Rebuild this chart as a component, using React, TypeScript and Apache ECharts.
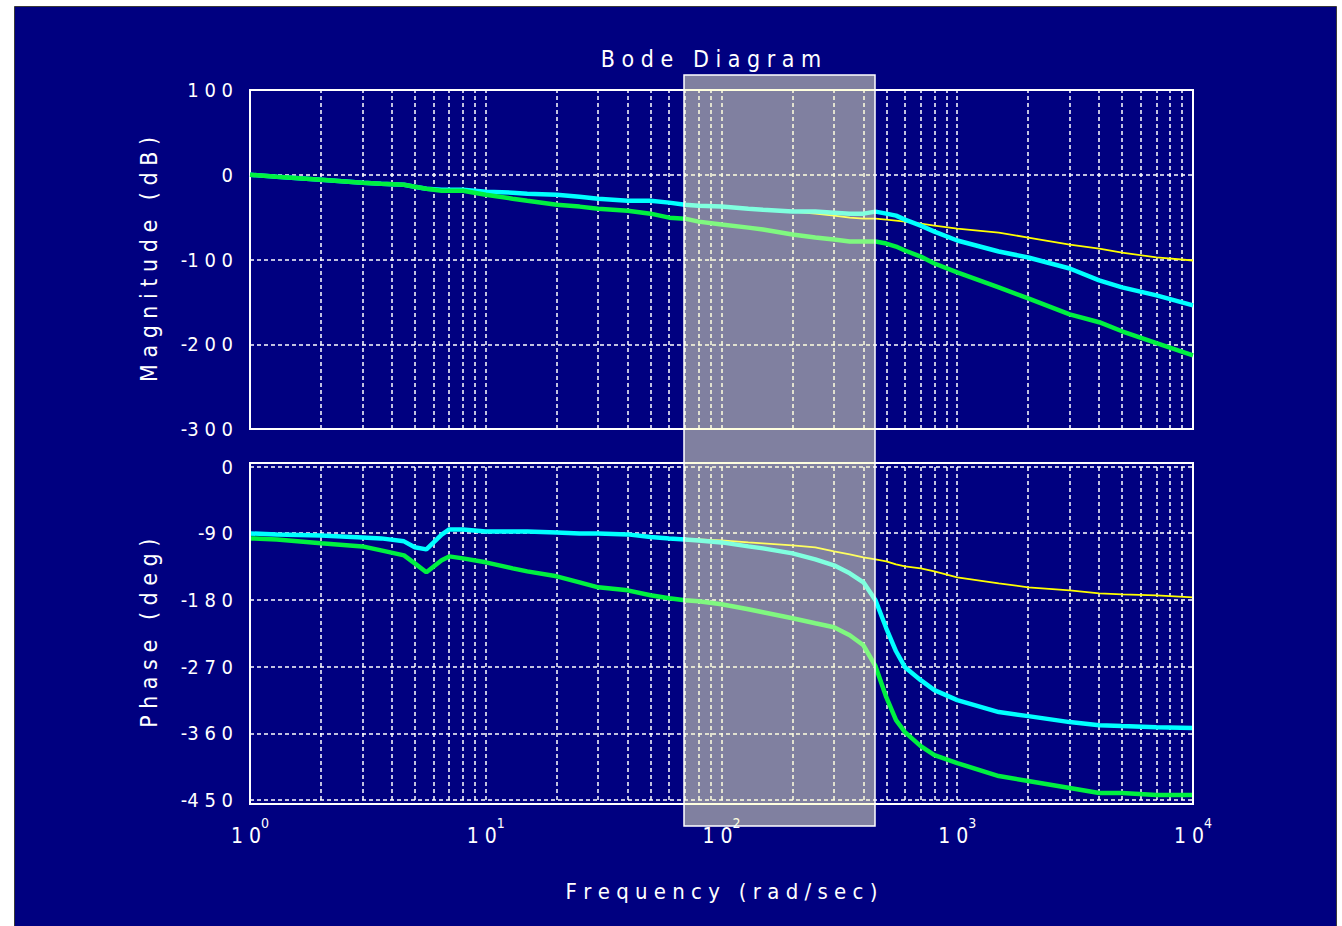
import React, { useEffect, useRef } from 'react';
import * as echarts from 'echarts';

// Frequencies (rad/sec) at which the curves were read
const freq = [1, 1.3, 2, 3, 3.6, 4.5, 5, 5.6, 6.5, 7, 8, 10, 13, 15, 20, 25, 30, 40, 50, 60, 70, 80, 100, 130, 150, 200, 250, 300, 350, 400, 450, 500, 550, 600, 700, 800, 1000, 1500, 2000, 3000, 4000, 5000, 7000, 10000];

// Magnitude (dB)
const magYellow = [0, -2.4, -5.9, -9.4, -10.6, -11.8, -14.1, -16.5, -17.6, -17.6, -17.6, -20, -21.2, -22.4, -23.5, -25.9, -28.2, -30.6, -30.6, -32.9, -35.3, -36.5, -37.6, -40, -41.2, -43.5, -45.9, -48.2, -50.6, -51.8, -51.8, -52.9, -54.1, -55.3, -57.6, -60, -63.5, -68.2, -74.1, -82.4, -87.1, -91.8, -97.6, -101.2];
const magCyan = [0, -2.4, -5.9, -9.4, -10.6, -11.8, -14.1, -16.5, -17.6, -17.6, -17.6, -20, -21.2, -22.4, -23.5, -25.9, -28.2, -30.6, -30.6, -32.9, -35.3, -36.5, -37.6, -40, -41.2, -43.5, -43.5, -44.7, -45.9, -45.9, -43.5, -45.9, -48.2, -52.9, -60, -67.1, -77.6, -90.6, -97.6, -110.6, -124.7, -132.9, -142.4, -154.1];
const magGreen = [0, -2.4, -5.9, -9.4, -10.6, -11.8, -14.1, -16.5, -18.8, -18.8, -18.8, -23.5, -28.2, -30.6, -35.3, -37.6, -40, -42.4, -45.9, -50.6, -51.8, -55.3, -58.8, -62.4, -64.7, -70.6, -74.1, -76.5, -78.8, -78.8, -78.8, -81.2, -84.7, -89.4, -96.5, -104.7, -115.3, -133, -145.9, -164.7, -174, -184.7, -198.8, -213];

// Phase (deg)
const phYellow = [-90.3, -91.6, -93, -95.7, -97, -101, -109, -111.8, -92, -84.9, -84.9, -87.6, -87.6, -87.6, -88.9, -90.3, -90.3, -91.6, -95, -97, -98.4, -98.4, -99.7, -102.4, -103.7, -106.4, -109.1, -114.5, -118.6, -122.6, -125.3, -128, -132, -134.7, -137.4, -141.5, -149.6, -157.6, -163, -167.1, -171.1, -172.5, -173.8, -176.5];
const phCyan = [-90.3, -91.6, -93, -95.7, -97, -101, -109, -111.8, -92, -84.9, -84.9, -87.6, -87.6, -87.6, -88.9, -90.3, -90.3, -91.6, -95, -97, -98.4, -99.7, -102.4, -107.8, -110.5, -117.2, -125.3, -133.4, -144.2, -156.3, -180.5, -218.3, -249.3, -270.8, -288.3, -301.8, -315.3, -331.4, -336.8, -344.9, -349, -350.3, -351.7, -353];
const phGreen = [-97, -98.4, -103.7, -107.8, -113.2, -119.9, -130.7, -142.8, -126.6, -121.3, -124, -129.3, -137.4, -141.5, -148.2, -156.3, -163, -167.1, -173.8, -177.8, -180.5, -181.9, -185.9, -192.7, -196.7, -204.8, -211.5, -216.9, -227.7, -241.2, -269.5, -311.2, -342.2, -358.4, -377.3, -389.4, -400.2, -417.7, -424.4, -433.8, -440.6, -440.6, -443.3, -443.3];

// Axis text
const titleText = 'Bode Diagram';
const magLabel = 'Magnitude (dB)';
const phaseLabel = 'Phase (deg)';
const freqLabel = 'Frequency (rad/sec)';

// Logarithmic grid positions (1..9 in each decade)
const logGrid: number[] = [];
for (let d = 0; d < 4; d++) {
  for (let k = 1; k <= 9; k++) logGrid.push(k * Math.pow(10, d));
}
logGrid.push(10000);

const FONT = '"Liberation Sans Narrow", "DejaVu Sans Condensed", "Liberation Sans", sans-serif';
const spaced = (s: string) => s.split('').join(' ');
const numLabel = (v: number) => (v < 0 ? '-' + spaced(String(Math.abs(v))) : spaced(String(v)));
const pairs = (vals: number[]) => freq.map((f, i) => [f, vals[i]]);

const gridLineStyle = { color: '#ffffff', width: 1.5, type: [4, 3] as number[] };

export default function App() {
  const ref = useRef<HTMLDivElement>(null);

  useEffect(() => {
    if (!ref.current) return;
    const chart = echarts.init(ref.current, undefined, { renderer: 'svg' });

    const markLine = {
      silent: true,
      z: 1,
      symbol: ['none', 'none'],
      label: { show: false },
      emphasis: { disabled: true },
      lineStyle: gridLineStyle,
      data: logGrid.map((v) => ({ xAxis: v })),
    };

    const xBase = {
      type: 'log' as const,
      logBase: 10,
      min: 1,
      max: 10000,
      splitNumber: 4,
      axisLine: { show: false },
      axisTick: { show: false },
      splitLine: { show: false },
    };

    const yBase = {
      type: 'value' as const,
      axisLine: { show: false },
      axisTick: { show: false },
      splitLine: { show: true, lineStyle: gridLineStyle },
      axisLabel: {
        color: '#ffffff',
        fontSize: 20,
        fontFamily: FONT,
        margin: 17,
        formatter: (v: number) => numLabel(v),
      },
      nameLocation: 'middle' as const,
      nameRotate: 90,
      nameGap: 90,
      nameTextStyle: { color: '#ffffff', fontSize: 23, fontFamily: FONT },
    };

    const line = (name: string, color: string, width: number, data: number[], xi: number, withGrid: boolean) => ({
      name,
      type: 'line',
      xAxisIndex: xi,
      yAxisIndex: xi,
      data: pairs(data),
      showSymbol: false,
      symbol: 'none',
      silent: true,
      lineStyle: { color, width },
      z: 2,
      ...(withGrid ? { markLine } : {}),
    });

    chart.setOption({
      animation: false,
      backgroundColor: '#ffffff',
      title: {
        text: spaced(titleText),
        left: 706,
        top: 42,
        textAlign: 'center',
        textStyle: { color: '#ffffff', fontSize: 23, fontWeight: 'normal', fontFamily: FONT },
      },
      grid: [
        { left: 250, top: 90, width: 943, height: 339, show: true, borderColor: '#ffffff', borderWidth: 2, backgroundColor: 'transparent' },
        { left: 250, top: 466.5, width: 943, height: 333.5, show: false },
      ],
      xAxis: [
        { ...xBase, gridIndex: 0, axisLabel: { show: false } },
        {
          ...xBase,
          gridIndex: 1,
          name: spaced(freqLabel),
          nameLocation: 'middle',
          nameGap: 80,
          nameTextStyle: { color: '#ffffff', fontSize: 22, fontFamily: FONT },
          axisLabel: {
            show: true,
            margin: 16,
            formatter: (v: number) => `{b|1 0}{s|${Math.round(Math.log10(v))}}`,
            rich: {
              b: { color: '#ffffff', fontSize: 21, fontFamily: FONT, lineHeight: 40, verticalAlign: 'middle' },
              s: { color: '#ffffff', fontSize: 14, fontFamily: FONT, lineHeight: 12, verticalAlign: 'top' },
            },
          },
        },
      ],
      yAxis: [
        { ...yBase, gridIndex: 0, min: -300, max: 100, interval: 100, name: spaced(magLabel) },
        { ...yBase, gridIndex: 1, min: -450, max: 0, interval: 90, name: spaced(phaseLabel) },
      ],
      series: [
        line('mag-yellow', '#ffff00', 1.8, magYellow, 0, true),
        line('mag-cyan', '#00ffff', 4.5, magCyan, 0, false),
        line('mag-green', '#00f040', 4.5, magGreen, 0, false),
        line('phase-yellow', '#ffff00', 1.8, phYellow, 1, true),
        line('phase-cyan', '#00ffff', 4.5, phCyan, 1, false),
        line('phase-green', '#00f040', 4.5, phGreen, 1, false),
      ],
      graphic: [
        {
          type: 'rect',
          z: -10,
          silent: true,
          shape: { x: 14.5, y: 6.5, width: 1322, height: 930 },
          style: { fill: '#000080', stroke: '#3a3a3a', lineWidth: 1 },
        },
        {
          type: 'rect',
          z: 3,
          silent: true,
          shape: { x: 250, y: 463, width: 943, height: 341 },
          style: { fill: 'none', stroke: '#ffffff', lineWidth: 2 },
        },
        {
          type: 'rect',
          z: 100,
          silent: true,
          shape: { x: 684, y: 75, width: 191, height: 751 },
          style: { fill: 'rgba(255,255,192,0.5)', stroke: '#ffffff', lineWidth: 1.5 },
        },
      ],
    });

    return () => chart.dispose();
  }, []);

  return <div ref={ref} style={{ position: 'fixed', left: 0, top: 0, width: 1342, height: 926 }} />;
}
